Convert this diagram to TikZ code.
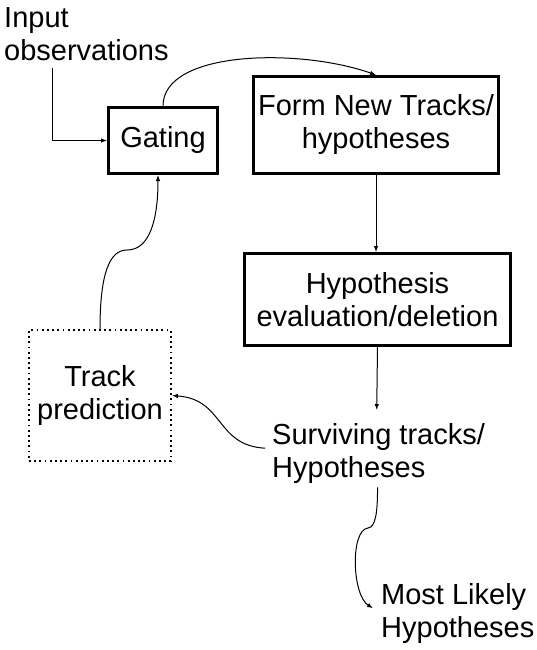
\documentclass[tikz,border=0pt]{standalone}
\usepackage{fontspec}
\setmainfont{Liberation Sans}
\usetikzlibrary{arrows.meta,calc}
\begin{document}
\begin{tikzpicture}[x=1pt,y=-1pt,
  lbl/.style={font=\fontsize{29}{33}\selectfont, inner sep=0pt, align=center},
  freetxt/.style={lbl, align=left, anchor=north west},
  solidbox/.style={lbl, draw, line width=3pt},
  dotbox/.style={lbl, draw, line width=1.8pt, dash pattern=on 1.8pt off 3.4pt},
  conn/.style={line width=1pt, -{Latex[length=6pt,width=4.5pt]}}]
\useasboundingbox (0,0) rectangle (537,650);

\node[freetxt] (inp) at (4,7) {Input\\observations};
\node[solidbox, minimum width=109pt, minimum height=66pt] (gating) at (163,140.5) {Gating};
\node[solidbox, minimum width=245pt, minimum height=97pt] (form) at (376,125) {Form New Tracks/\\hypotheses};
\node[solidbox, minimum width=266pt, minimum height=92pt] (hyp) at (377.5,299.5) {Hypothesis\\evaluation/deletion};
\node[dotbox, minimum width=142pt, minimum height=131pt] (track) at (100,395.5) {Track\\prediction};
\node[freetxt] (surv) at (272,423) {Surviving tracks/\\Hypotheses};
\node[freetxt] (most) at (381,583) {Most Likely\\Hypotheses};

\coordinate (inpstart) at (52,68);
\coordinate (k1) at (127,250);
\coordinate (k2) at (368,528);

% input -> gating
\draw[conn] (inpstart) |- (gating.west);
% gating -> form
\draw[conn] (gating.north) .. controls +(0,-56) and +(-76,-27) .. (form.north);
% form -> hyp
\draw[conn] (form.south) -- (form.south |- hyp.north);
% hyp -> surviving
\draw[conn, shorten >=13pt] (hyp.south) -- ($(surv.north)+(-2,0)$);
% surviving -> track
\draw[conn] ($(surv.west)+(-7,-5)$) .. controls +(-50,-3) and +(53,4) .. (track.east);
% track -> gating
\draw[conn] (track.north) .. controls +(0,-57) and +(-17,0) .. (k1)
   .. controls +(23,0) and +(0,44) .. ($(gating.south)+(-5,0)$);
% surviving -> most likely
\draw[conn] ($(surv.south)+(-1,4)$) .. controls +(0,28) and +(7,-1) .. (k2)
   .. controls +(-18,2) and +(-21,-13) .. ($(most.west)+(-8,-5)$);
\end{tikzpicture}
\end{document}
